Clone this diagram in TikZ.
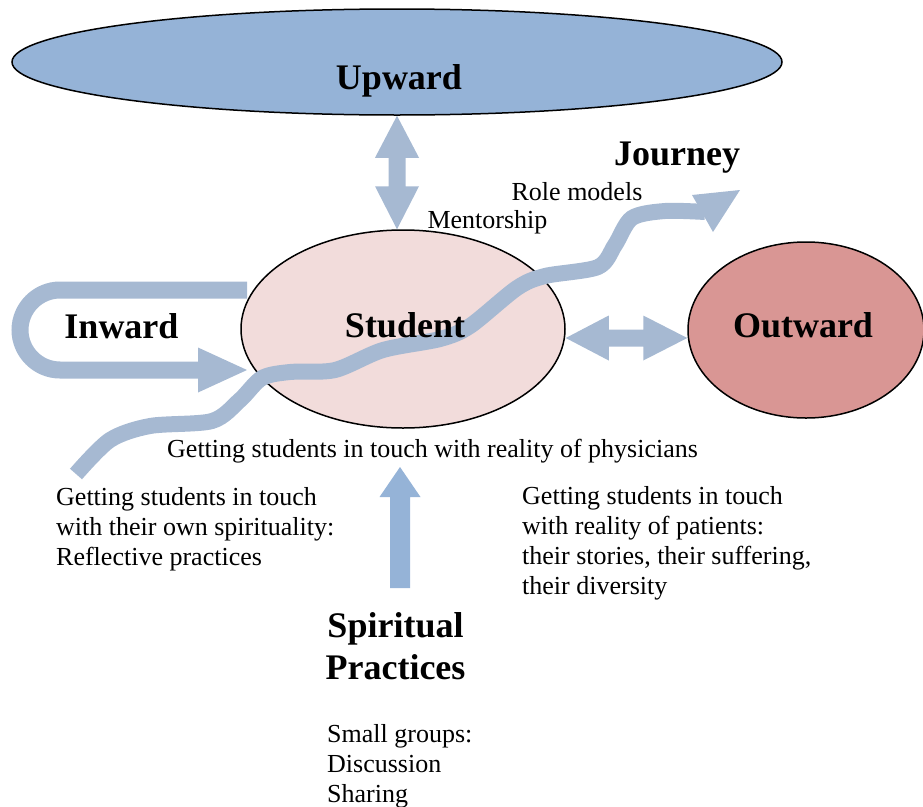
\documentclass[tikz,border=0pt]{standalone}
\usepackage{fontspec}
\setmainfont{Liberation Serif}
\usetikzlibrary{calc,shapes.geometric}
\definecolor{arrowc}{HTML}{A6B9D2}
\definecolor{arrowb}{HTML}{95B3D7}
\definecolor{upc}{HTML}{95B3D7}
\definecolor{stc}{HTML}{F2DCDB}
\definecolor{outc}{HTML}{D99694}
\begin{document}
\begin{tikzpicture}[x=1pt,y=-1pt,
  oval/.style={ellipse, draw=black, line width=1.5pt, inner sep=0pt},
  lbl/.style={font=\fontsize{36}{42}\selectfont\bfseries, inner sep=0pt, anchor=base},
  txt/.style={font=\fontsize{26}{30}\selectfont, inner sep=0pt, anchor=base west},
  fat/.style={arrowc, line width=#1, line cap=butt},
]
\path[use as bounding box] (0,0) rectangle (923,806);

% ellipses
\node[oval, fill=upc, minimum width=770pt, minimum height=106pt] (up) at (397,62) {};
\node[oval, fill=stc, minimum width=324pt, minimum height=198pt] (st) at (403,329) {};
\node[oval, fill=outc, minimum width=236pt, minimum height=176pt] (out) at (806,330) {};

% vertical double arrow Upward <-> Student
\coordinate (va) at (up.south);
\coordinate (vb) at (up.south |- st.north);
\fill[arrowc] (va) -- ($(va)+(22,42)$) -- ($(va)+(8.5,42)$) -- ($(vb)+(8.5,-43)$) -- ($(vb)+(22,-43)$)
  -- (vb) -- ($(vb)+(-22,-43)$) -- ($(vb)+(-8.5,-43)$) -- ($(va)+(-8.5,42)$) -- ($(va)+(-22,42)$) -- cycle;

% horizontal double arrow Student <-> Outward
\coordinate (ha) at ($(st.east)+(0,9)$);
\coordinate (hb) at ($(out.west)+(0,8)$);
\fill[arrowc] (ha) -- ++(43,-22.5) -- ++(0,14) -- ($(hb)+(-44,-8.5)$) -- ++(0,-14) -- (hb)
  -- ++(-44,22.5) -- ++(0,-14) -- ($(ha)+(43,8.5)$) -- ++(0,14) -- cycle;

% inward loop arrow
\coordinate (ia) at (247,290);
\coordinate (ib) at (247,370);
\draw[fat=17pt] (ia) -- (60,290) .. controls (38,290) and (20,308) .. (20,330)
  .. controls (20,352) and (38,370) .. (60,370) -- (199,370);
\fill[arrowc] (198,347.5) -- (ib) -- (198,392.5) -- cycle;

% journey arrow
\coordinate (ja) at (76,474);
\coordinate (jb) at (705,212);
\draw[fat=16pt] plot[smooth, tension=0.5] coordinates {(ja) (110,440) (150,426) (212,421) (240,400)
  (262,378) (290,372) (335,370) (383,350) (440,339) (470,326) (517,288) (545,276) (598,267)
  (615,245) (632,218) (665,211) (jb)};
\fill[arrowc] (692,195) -- (740,190) -- (713,232) -- cycle;

% bottom arrow from Spiritual Practices
\coordinate (ba) at (400,588);
\coordinate (bb) at (400,467);
\fill[arrowb] ($(ba)+(-10,0)$) -- ($(bb)+(-10,30)$) -- ($(bb)+(-20.5,30)$) -- (bb)
  -- ($(bb)+(20.5,30)$) -- ($(bb)+(10,30)$) -- ($(ba)+(10,0)$) -- cycle;

% labels
\node[lbl] (upl) at (399,89) {Upward};
\node[lbl] (jl) at (677,165) {Journey};
\node[txt, anchor=base] (rm) at (577,200) {Role models};
\node[txt, anchor=base] (me) at (487.5,228) {Mentorship};
\node[lbl] (inl) at (121.5,338) {Inward};
\node[lbl] (stl) at (405,337) {Student};
\node[lbl] (outl) at (803,337) {Outward};
\node[txt] (phys) at (167,457) {Getting students in touch with reality of physicians};
\node[txt] (lt) at (56,505) {\begin{tabular}[t]{@{}l@{}}Getting students in touch\\with their own spirituality:\\Reflective practices\end{tabular}};
\node[txt] (rt) at (522,504) {\begin{tabular}[t]{@{}l@{}}Getting students in touch\\with reality of patients:\\their stories, their suffering,\\their diversity\end{tabular}};
\node[lbl] (sp) at (395.5,637) {\begin{tabular}[t]{@{}c@{}}Spiritual\\Practices\end{tabular}};
\node[txt] (sg) at (327,742) {\begin{tabular}[t]{@{}l@{}}Small groups:\\Discussion\\Sharing\end{tabular}};
\end{tikzpicture}
\end{document}
